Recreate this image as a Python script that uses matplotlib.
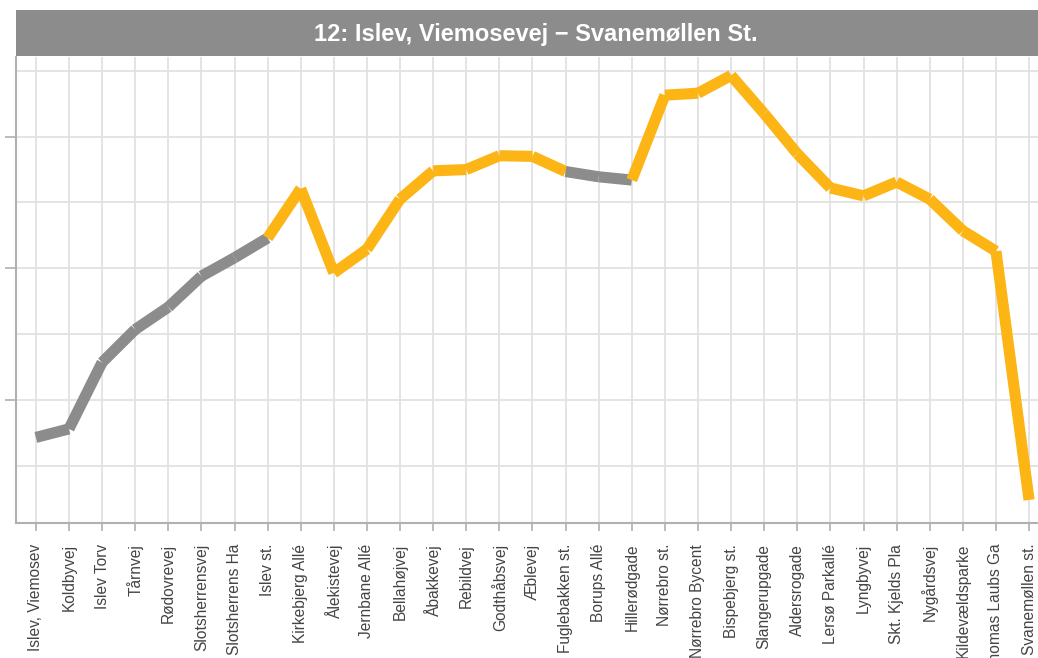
import matplotlib.pyplot as plt

plt.rcParams['font.family'] = ['Liberation Sans', 'DejaVu Sans']

# Stoppesteder (forkortet til 15 tegn som i originalen)
stops = ['Islev, Viemosev', 'Koldbyvej', 'Islev Torv', 'Tårnvej', 'Rødovrevej',
         'Slotsherrensvej', 'Slotsherrens Ha', 'Islev st.', 'Kirkebjerg Allé',
         'Ålekistevej', 'Jernbane Allé', 'Bellahøjvej', 'Åbakkevej', 'Rebildvej',
         'Godthåbsvej', 'Æblevej', 'Fuglebakken st.', 'Borups Allé', 'Hillerødgade',
         'Nørrebro st.', 'Nørrebro Bycent', 'Bispebjerg st.', 'Slangerupgade',
         'Aldersrogade', 'Lersø Parkallé', 'Lyngbyvej', 'Skt. Kjelds Pla',
         'Nygårdsvej', 'Kildevældsparke', 'Thomas Laubs Ga', 'Svanemøllen st.']

values = [1.43, 1.56, 2.57, 3.07, 3.41, 3.88, 4.16, 4.46, 5.21, 3.93,
          4.29, 5.05, 5.48, 5.50, 5.71, 5.70, 5.47, 5.39, 5.34, 6.63,
          6.66, 6.93, 6.35, 5.74, 5.22, 5.10, 5.31, 5.05, 4.57, 4.26, 0.48]

# gruppe for hver strækning mellem to stop
segment_group = ['grå'] * 7 + ['gul'] * 9 + ['grå'] * 2 + ['gul'] * 12

colors = {'grå': '#8c8c8c', 'gul': '#fdb515'}

fig = plt.figure(figsize=(10.38, 6.58), dpi=100)
ax = fig.add_axes([16 / 1038, 1 - 523 / 658, 1 - 16 / 1038, (523 - 57) / 658])

x = list(range(len(stops)))
for i, grp in enumerate(segment_group):
    ax.plot(x[i:i + 2], values[i:i + 2], color=colors[grp], linewidth=8,
            solid_capstyle='butt', zorder=3)

ax.set_xlim(-0.6, 30.27)
ax.set_ylim(0.13, 7.21)

ax.set_xticks(x)
ax.set_xticklabels(stops, rotation=90, fontsize=11.2, color='#444444')
ax.set_yticks([2, 4, 6])
ax.set_yticks([1, 3, 5, 7], minor=True)
ax.set_yticklabels([])
ax.tick_params(axis='y', which='major', length=8, color='#b0b0b0', width=1.2)
ax.tick_params(axis='y', which='minor', length=0)
ax.tick_params(axis='x', length=6, color='#b0b0b0', width=1.2, pad=9)

ax.grid(True, which='both', color='#e2e2e2', linewidth=1.3, zorder=0)
ax.set_axisbelow(True)

for s in ['top', 'right']:
    ax.spines[s].set_visible(False)
for s in ['left', 'bottom']:
    ax.spines[s].set_color('#b0b0b0')
    ax.spines[s].set_linewidth(1.5)

# titelbjælke
fig.patches.append(plt.Rectangle((16 / 1038, 1 - 56 / 658), 1 - 16 / 1038, 46 / 658,
                                 transform=fig.transFigure, facecolor='#8c8c8c',
                                 edgecolor='none'))
fig.text(536 / 1038, 1 - 34 / 658, '12: Islev, Viemosevej \u2212 Svanemøllen St.',
         ha='center', va='center', color='white', fontsize=17, fontweight='bold')

fig.savefig('out.png', dpi=100)
